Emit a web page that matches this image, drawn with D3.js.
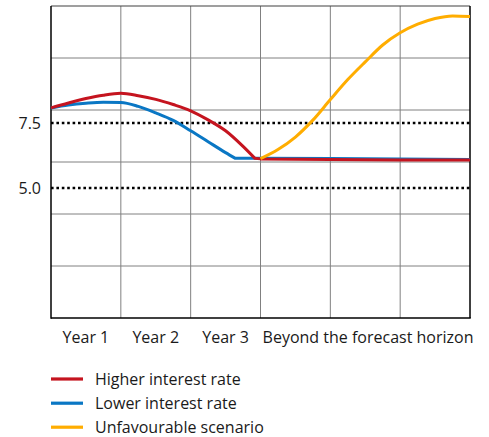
<!DOCTYPE html>
<html>
<head>
<meta charset="utf-8">
<script src="https://cdn.jsdelivr.net/npm/d3@7"></script>
<style>
  html, body { margin: 0; padding: 0; background: #fff; }
  svg { display: block; font-family: "Open Sans", "Noto Sans", sans-serif; }
</style>
</head>
<body>
<svg id="chart" width="489" height="437"></svg>
<script>
// ---- data ----
const xCategories = ["Year 1", "Year 2", "Year 3", "Beyond the forecast horizon"];
const xCategoryCenters = [0.5, 1.5, 2.5, 4.54];
const yTickValues = [7.5, 5.0];
const yTickLabels = ["7.5", "5.0"];

const seriesNames = ["Higher interest rate", "Lower interest rate", "Unfavourable scenario"];
const seriesColors = ["#c5141f", "#0a77c4", "#ffad00"];

const higherX = [0, 0.25, 0.5, 0.75, 1, 1.25, 1.5, 1.75, 2, 2.25, 2.5, 2.75, 2.92, 3, 4, 5, 6];
const higherY = [8.08, 8.27, 8.44, 8.57, 8.64, 8.55, 8.41, 8.21, 7.97, 7.62, 7.2, 6.6, 6.14, 6.12, 6.1, 6.08, 6.08];
const higherKink = 12;

const lowerX = [0, 0.25, 0.5, 0.75, 1, 1.25, 1.5, 1.75, 2, 2.25, 2.5, 2.64, 3, 4, 5, 6];
const lowerY = [8.08, 8.19, 8.26, 8.3, 8.29, 8.14, 7.89, 7.6, 7.2, 6.78, 6.36, 6.14, 6.14, 6.13, 6.12, 6.1];
const lowerKink = 11;

const unfavX = [3, 3.25, 3.5, 3.75, 4, 4.25, 4.5, 4.75, 5, 5.25, 5.5, 5.75, 6];
const unfavY = [6.13, 6.48, 6.96, 7.61, 8.4, 9.17, 9.85, 10.5, 10.97, 11.3, 11.52, 11.62, 11.6];

// ---- layout ----
const svg = d3.select("#chart");
const mLeft = 51, mRight = 470, mTop = 6, mBottom = 318;
const x = d3.scaleLinear().domain([0, 6]).range([mLeft, mRight]);
const y = d3.scaleLinear().domain([0, 12]).range([mBottom, mTop]);
const fontSize = 16;

// grid
const grid = svg.append("g");
grid.selectAll("line.v").data(d3.range(1, 6)).join("line")
  .attr("x1", d => x(d)).attr("x2", d => x(d))
  .attr("y1", mTop).attr("y2", mBottom)
  .attr("stroke", "#808080").attr("stroke-width", 1);
grid.selectAll("line.h").data(d3.range(2, 12, 2)).join("line")
  .attr("x1", mLeft).attr("x2", mRight)
  .attr("y1", d => y(d)).attr("y2", d => y(d))
  .attr("stroke", "#808080").attr("stroke-width", 1);
// frame
svg.append("line").attr("x1", mLeft).attr("x2", mRight).attr("y1", y(12)).attr("y2", y(12))
  .attr("stroke", "#404040").attr("stroke-width", 1.2);
svg.append("line").attr("x1", mRight).attr("x2", mRight).attr("y1", mTop).attr("y2", mBottom)
  .attr("stroke", "#000").attr("stroke-width", 1.5);

// dotted reference lines
svg.selectAll("line.ref").data(yTickValues).join("line")
  .attr("x1", mLeft).attr("x2", mRight)
  .attr("y1", d => y(d)).attr("y2", d => y(d))
  .attr("stroke", "#000").attr("stroke-width", 2.6)
  .attr("stroke-dasharray", "2.6 2.8");

// y labels
svg.selectAll("text.yl").data(yTickValues).join("text")
  .attr("x", mLeft - 10).attr("y", d => y(d))
  .attr("text-anchor", "end").attr("dominant-baseline", "central")
  .attr("font-size", fontSize).attr("fill", "#1a1a1a")
  .text((d, i) => yTickLabels[i]);

// axes lines (left, bottom)
svg.append("line").attr("x1", mLeft).attr("x2", mLeft).attr("y1", mTop).attr("y2", mBottom + 0.75)
  .attr("stroke", "#000").attr("stroke-width", 1.5);
svg.append("line").attr("x1", mLeft).attr("x2", mRight + 0.75).attr("y1", mBottom).attr("y2", mBottom)
  .attr("stroke", "#000").attr("stroke-width", 1.5);

// x labels
svg.selectAll("text.xl").data(xCategories).join("text")
  .attr("x", (d, i) => x(xCategoryCenters[i])).attr("y", 343)
  .attr("text-anchor", "middle")
  .attr("font-size", fontSize).attr("fill", "#1a1a1a")
  .text(d => d);

// lines
const smooth = d3.line().x(d => x(d[0])).y(d => y(d[1])).curve(d3.curveMonotoneX);
const straight = d3.line().x(d => x(d[0])).y(d => y(d[1]));
function pathFor(xs, ys, kink) {
  const pts = xs.map((v, i) => [v, ys[i]]);
  if (kink == null) return smooth(pts);
  const a = smooth(pts.slice(0, kink + 1));
  const b = straight(pts.slice(kink)).replace(/^M[^L]*/, "");
  return a + b;
}
const lineData = [
  {d: pathFor(lowerX, lowerY, lowerKink), c: seriesColors[1]},
  {d: pathFor(higherX, higherY, higherKink), c: seriesColors[0]},
  {d: pathFor(unfavX, unfavY, null), c: seriesColors[2]}
];
svg.selectAll("path.series").data(lineData).join("path")
  .attr("d", d => d.d).attr("fill", "none")
  .attr("stroke", d => d.c).attr("stroke-width", 3)
  .attr("stroke-linejoin", "round");

// legend
const legendY = [379, 403.2, 427.2];
const lg = svg.selectAll("g.lg").data(seriesNames).join("g")
  .attr("transform", (d, i) => `translate(0,${legendY[i]})`);
lg.append("line").attr("x1", 51).attr("x2", 83).attr("y1", 0).attr("y2", 0)
  .attr("stroke", (d, i) => seriesColors[i]).attr("stroke-width", 3.2);
lg.append("text").attr("x", 95).attr("y", 0).attr("dominant-baseline", "central")
  .attr("font-size", fontSize).attr("fill", "#1a1a1a").text(d => d);
</script>
</body>
</html>
